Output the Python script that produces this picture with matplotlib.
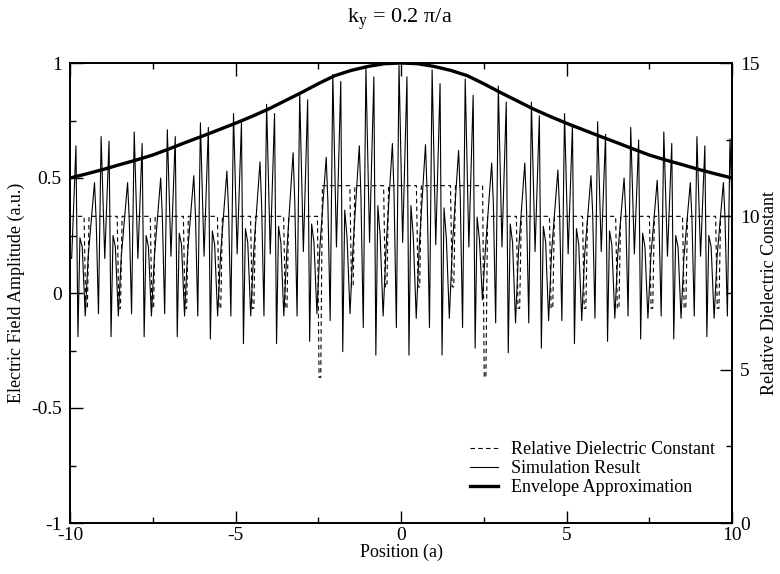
import matplotlib
matplotlib.use("Agg")
import matplotlib.pyplot as plt
from matplotlib.ticker import MultipleLocator, FuncFormatter
from matplotlib.lines import Line2D

plt.rcParams['font.family'] = ['Liberation Serif', 'DejaVu Serif']
plt.rcParams['mathtext.fontset'] = 'custom'
plt.rcParams['mathtext.rm'] = 'Liberation Serif'
plt.rcParams['mathtext.it'] = 'Liberation Serif:italic'
plt.rcParams['axes.unicode_minus'] = False

# ---------------- data ----------------
# Simulation result: each unit cell k (x in [k-0.06, k+0.86]) sampled at these offsets
sim_offsets = [-0.06, 0.05, 0.18, 0.24, 0.30, 0.37, 0.46, 0.55, 0.74, 0.79, 0.86]
sim_cells = [-10, -9, -8, -7, -6, -5, -4, -3, -2, -1, 0, 1, 2, 3, 4, 5, 6, 7, 8, 9, 10]
sim_values = [
    [0.17, 0.15, 0.64, -0.19, 0.24, 0.20, -0.10, 0.16, 0.48, 0.32, -0.09],
    [0.68, 0.15, 0.66, -0.19, 0.25, 0.20, -0.10, 0.16, 0.48, 0.32, -0.09],
    [0.70, 0.15, 0.65, -0.19, 0.25, 0.20, -0.10, 0.16, 0.50, 0.33, -0.09],
    [0.71, 0.16, 0.68, -0.19, 0.26, 0.21, -0.10, 0.17, 0.51, 0.34, -0.10],
    [0.74, 0.16, 0.72, -0.20, 0.27, 0.21, -0.10, 0.17, 0.53, 0.36, -0.10],
    [0.78, 0.17, 0.74, -0.22, 0.28, 0.22, -0.10, 0.18, 0.57, 0.38, -0.10],
    [0.82, 0.17, 0.78, -0.22, 0.29, 0.22, -0.10, 0.18, 0.61, 0.40, -0.10],
    [0.87, 0.18, 0.84, -0.21, 0.30, 0.22, -0.09, 0.20, 0.59, 0.40, -0.12],
    [0.95, 0.20, 0.92, -0.255, 0.36, 0.24, -0.09, 0.20, 0.64, 0.42, -0.15],
    [0.98, 0.22, 0.94, -0.27, 0.38, 0.25, -0.10, 0.20, 0.65, 0.43, -0.15],
    [0.99, 0.22, 0.94, -0.27, 0.38, 0.25, -0.11, 0.20, 0.645, 0.43, -0.15],
    [0.97, 0.21, 0.91, -0.27, 0.37, 0.24, -0.11, 0.20, 0.62, 0.42, -0.15],
    [0.93, 0.20, 0.86, -0.24, 0.33, 0.23, -0.03, 0.19, 0.565, 0.39, -0.13],
    [0.90, 0.20, 0.83, -0.26, 0.30, 0.22, -0.13, 0.18, 0.565, 0.38, -0.13],
    [0.83, 0.18, 0.77, -0.24, 0.29, 0.22, -0.12, 0.18, 0.535, 0.36, -0.12],
    [0.78, 0.17, 0.73, -0.22, 0.28, 0.21, -0.12, 0.17, 0.51, 0.35, -0.11],
    [0.745, 0.18, 0.69, -0.21, 0.27, 0.21, -0.11, 0.17, 0.50, 0.34, -0.10],
    [0.72, 0.17, 0.665, -0.20, 0.26, 0.20, -0.11, 0.16, 0.49, 0.33, -0.10],
    [0.70, 0.16, 0.65, -0.20, 0.25, 0.20, -0.11, 0.16, 0.48, 0.32, -0.10],
    [0.68, 0.16, 0.64, -0.19, 0.25, 0.20, -0.11, 0.16, 0.48, 0.32, -0.10],
    [0.67, 0.15],
]

# Envelope approximation
env_x = [-10, -9.5, -9, -8.5, -8, -7.5, -7, -6.5, -6, -5.5, -5, -4.5, -4, -3.5, -3,
         -2.5, -2, -1.5, -1, -0.5, 0, 0.5, 1, 1.5, 2, 2.5, 3, 3.5, 4, 4.5, 5,
         5.5, 6, 6.5, 7, 7.5, 8, 8.5, 9, 9.5, 10]
env_y = [0.50, 0.518, 0.537, 0.558, 0.578, 0.60, 0.627, 0.655, 0.682, 0.71, 0.738,
         0.768, 0.80, 0.836, 0.872, 0.91, 0.945, 0.968, 0.985, 0.997, 1.0, 0.997,
         0.985, 0.968, 0.945, 0.91, 0.872, 0.836, 0.80, 0.768, 0.738, 0.71, 0.682,
         0.655, 0.627, 0.60, 0.578, 0.558, 0.537, 0.518, 0.50]

# Relative dielectric constant: background levels and narrow dips
eps_dip_x = [-9.5, -8.5, -7.5, -6.5, -5.47, -4.47, -3.47, -2.45, -1.47, -0.45, 0.54,
             1.57, 2.54, 3.56, 4.56, 5.56, 6.56, 7.58, 8.58, 9.58]
eps_before = [10, 10, 10, 10, 10, 10, 10, 10, 11, 11, 11, 11, 11, 10, 10, 10, 10, 10, 10, 10]
eps_after = [10, 10, 10, 10, 10, 10, 10, 11, 11, 11, 11, 11, 10, 10, 10, 10, 10, 10, 10, 10]
eps_min = [7.0, 7.0, 7.0, 7.0, 7.0, 7.0, 7.0, 4.75, 7.7, 7.7, 7.7, 7.7, 4.75,
           7.0, 7.0, 7.0, 7.0, 7.0, 7.0, 7.0]
eps_edges = [-10, 10]
eps_edge_levels = [10, 10]

x_ticks = [-10, -5, 0, 5, 10]
y_ticks = [-1, -0.5, 0, 0.5, 1]
y2_ticks = [0, 5, 10, 15]

# ---------------- build series ----------------
sim_x, sim_y = [], []
for k, row in zip(sim_cells, sim_values):
    for off, v in zip(sim_offsets, row):
        sim_x.append(k + off)
        sim_y.append(v)

eps_x, eps_y = [eps_edges[0]], [eps_edge_levels[0]]
for xd, b, a, m in zip(eps_dip_x, eps_before, eps_after, eps_min):
    eps_x += [xd - 0.075, xd - 0.025, xd + 0.025, xd + 0.075]
    eps_y += [b, m, m, a]
eps_x.append(eps_edges[1])
eps_y.append(eps_edge_levels[1])

# ---------------- plot ----------------
fig = plt.figure(figsize=(7.8, 5.74), dpi=100)
ax = fig.add_axes([70 / 780, 51 / 574, 662 / 780, 460 / 574])
ax2 = ax.twinx()

l_sim, = ax.plot(sim_x, sim_y, color='black', lw=0.8)
l_env, = ax.plot(env_x, env_y, color='black', lw=2.4, solid_capstyle='butt')
l_eps, = ax2.plot(eps_x, eps_y, color='black', lw=0.8, ls=(0, (4, 3)))

ax.set_xlim(-10, 10)
ax.set_ylim(-1, 1)
ax2.set_ylim(0, 15)

fmt = FuncFormatter(lambda v, p: '%g' % v)
ax.set_xticks(x_ticks)
ax.set_yticks(y_ticks)
ax2.set_yticks(y2_ticks)
ax.xaxis.set_major_formatter(fmt)
ax.yaxis.set_major_formatter(fmt)
ax2.yaxis.set_major_formatter(fmt)
ax.xaxis.set_minor_locator(MultipleLocator(2.5))
ax.yaxis.set_minor_locator(MultipleLocator(0.25))
ax2.yaxis.set_minor_locator(MultipleLocator(2.5))

ax.tick_params(which='both', direction='in', top=True, right=False, labelsize=14,
               width=1.0)
ax.tick_params(which='major', length=9)
ax.tick_params(which='minor', length=4.5)
ax.tick_params(axis='x', pad=3)
ax.tick_params(axis='y', pad=6)
ax2.tick_params(which='both', direction='in', labelsize=14, width=1.0, pad=6)
ax2.tick_params(which='major', length=9)
ax2.tick_params(which='minor', length=4.5)

for a in (ax, ax2):
    for s in a.spines.values():
        s.set_linewidth(1.3)

ax.set_xlabel('Position (a)', fontsize=13, labelpad=0)
ax.set_ylabel('Electric Field Amplitude (a.u.)', fontsize=13, labelpad=4)
ax2.set_ylabel('Relative Dielectric Constant', fontsize=13, rotation=90, labelpad=1)

fig.text(400 / 780, 1 - 19 / 574, r'k$_\mathrm{y}$ = 0.2 π/a', fontsize=16,
         ha='center', va='center')

handles = [Line2D([], [], color='black', lw=0.8, ls=(0, (4, 3))),
           Line2D([], [], color='black', lw=0.8),
           Line2D([], [], color='black', lw=2.4)]
labels = ['Relative Dielectric Constant', 'Simulation Result', 'Envelope Approximation']
ax2.legend(handles, labels, loc='upper left', bbox_to_anchor=(470 / 780, 1 - 441 / 574),
           bbox_transform=fig.transFigure, frameon=False, fontsize=13,
           handlelength=1.55, handletextpad=0.7, borderpad=0, borderaxespad=0,
           labelspacing=0.12)

fig.savefig('out.png', dpi=100)
